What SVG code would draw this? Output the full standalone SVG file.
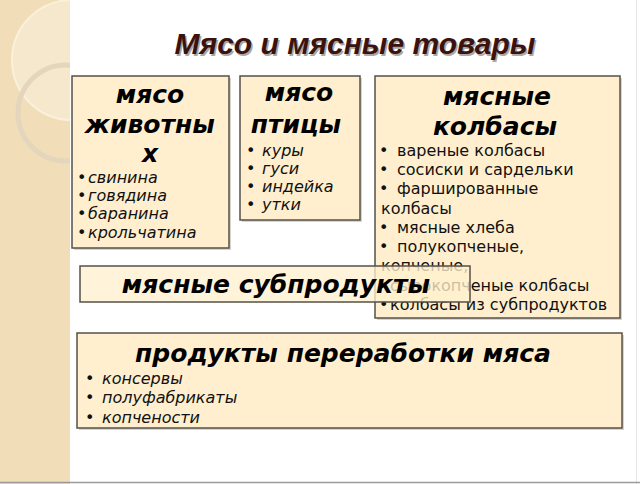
<svg xmlns="http://www.w3.org/2000/svg" width="640" height="484" viewBox="0 0 640 484">
<defs>
<style>
.box{fill:#FFEFCE;stroke:#55524a;stroke-width:1.5}
.sh{fill:#d8d4cc}
.h{font-family:"DejaVu Sans",sans-serif;font-weight:bold;font-style:italic;font-size:25px;fill:#000;text-anchor:middle}
.li{font-family:"DejaVu Sans",sans-serif;font-style:italic;font-size:16px;fill:#111}
.lr{font-family:"DejaVu Sans",sans-serif;font-size:16px;fill:#111}
</style>
<clipPath id="strip"><rect x="0" y="0" width="70" height="484"/></clipPath>
</defs>
<rect x="0" y="0" width="640" height="484" fill="#ffffff"/>
<rect x="0" y="0" width="70" height="484" fill="#F1DEB8"/>
<g clip-path="url(#strip)">
<circle cx="72" cy="60" r="60" fill="#F5E8CC" stroke="#FAF0DC" stroke-width="2"/>
<circle cx="66" cy="113" r="48" fill="none" stroke="#E4D6BC" stroke-width="5"/>
</g>
<line x1="636.5" y1="0" x2="636.5" y2="484" stroke="#e6e6e6" stroke-width="1"/>
<line x1="0" y1="482.5" x2="640" y2="482.5" stroke="#9a9a9a" stroke-width="1.5"/>
<text x="355" y="54" font-family="Liberation Sans,Arial,sans-serif" font-weight="bold" font-style="italic" font-size="30" text-anchor="middle" fill="#8a8480" opacity="0.7" transform="translate(1.5,1.5)">Мясо и мясные товары</text>
<text x="355" y="54" font-family="Liberation Sans,Arial,sans-serif" font-weight="bold" font-style="italic" font-size="30" text-anchor="middle" fill="#3a120e">Мясо и мясные товары</text>

<g id="connectors"/>

<g id="node-animal">
<rect class="sh" x="74" y="78" width="157" height="172"/>
<rect class="box" x="72" y="76" width="157" height="172"/>
<text class="h" x="150" y="103">мясо</text>
<text class="h" x="150" y="133">животны</text>
<text class="h" x="150" y="162">х</text>
<text class="li"><tspan x="77" y="183">•</tspan><tspan x="88" y="183">свинина</tspan></text>
<text class="li"><tspan x="77" y="201">•</tspan><tspan x="88" y="201">говядина</tspan></text>
<text class="li"><tspan x="77" y="219">•</tspan><tspan x="88" y="219">баранина</tspan></text>
<text class="li"><tspan x="77" y="238">•</tspan><tspan x="88" y="238">крольчатина</tspan></text>
</g>

<g id="node-poultry">
<rect class="sh" x="242" y="78" width="120" height="144"/>
<rect class="box" x="240" y="76" width="120" height="144"/>
<text class="h" x="299" y="101">мясо</text>
<text class="h" x="296" y="133">птицы</text>
<text class="li"><tspan x="246" y="156">•</tspan><tspan x="262" y="156">куры</tspan></text>
<text class="li"><tspan x="246" y="174">•</tspan><tspan x="262" y="174">гуси</tspan></text>
<text class="li"><tspan x="246" y="192">•</tspan><tspan x="262" y="192">индейка</tspan></text>
<text class="li"><tspan x="246" y="210">•</tspan><tspan x="262" y="210">утки</tspan></text>
</g>

<g id="node-sausage">
<rect class="sh" x="377" y="78" width="245" height="242"/>
<rect class="box" x="375" y="76" width="245" height="242"/>
<text class="h" x="497" y="105">мясные</text>
<text class="h" x="495" y="135">колбасы</text>
<text class="lr"><tspan x="379" y="156">•</tspan><tspan x="397" y="156">вареные колбасы</tspan></text>
<text class="lr"><tspan x="379" y="175">•</tspan><tspan x="397" y="175">сосиски и сардельки</tspan></text>
<text class="lr"><tspan x="379" y="194">•</tspan><tspan x="397" y="194">фаршированные</tspan></text>
<text class="lr" x="381" y="214">колбасы</text>
<text class="lr"><tspan x="379" y="233">•</tspan><tspan x="397" y="233">мясные хлеба</tspan></text>
<text class="lr"><tspan x="379" y="252">•</tspan><tspan x="397" y="252">полукопченые,</tspan></text>
<text class="lr" x="381" y="271">копченые,</text>
<text class="lr"><tspan x="379" y="291">•</tspan><tspan x="390" y="291">сырокопченые колбасы</tspan></text>
<text class="lr"><tspan x="379" y="310">•</tspan><tspan x="390" y="310">колбасы из субпродуктов</tspan></text>
</g>

<g id="node-offal">
<rect x="80" y="266" width="390" height="36" fill="#FFEFCE" fill-opacity="0.78" stroke="#55524a" stroke-width="1.5"/>
<text class="h" x="276" y="293">мясные субпродукты</text>
</g>

<g id="node-processed">
<rect class="sh" x="79" y="335" width="545" height="95"/>
<rect class="box" x="77" y="333" width="545" height="95"/>
<text class="h" x="343" y="362">продукты переработки мяса</text>
<text class="li"><tspan x="85" y="384">•</tspan><tspan x="102" y="384">консервы</tspan></text>
<text class="li"><tspan x="85" y="403">•</tspan><tspan x="102" y="403">полуфабрикаты</tspan></text>
<text class="li"><tspan x="85" y="423">•</tspan><tspan x="102" y="423">копчености</tspan></text>
</g>
</svg>
